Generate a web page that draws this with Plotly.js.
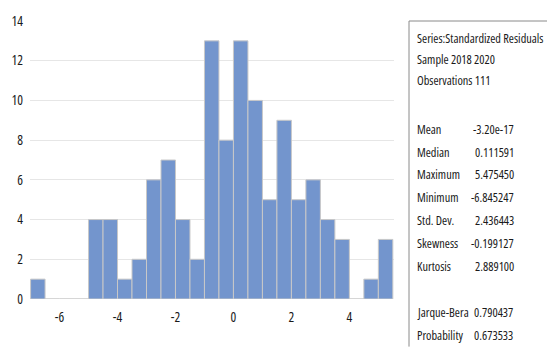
<!DOCTYPE html>
<html>
<head>
<meta charset="utf-8">
<script src="https://cdn.plot.ly/plotly-3.0.1.min.js"></script>
<style>html,body{margin:0;padding:0;background:#fff;}#chart{width:547px;height:347px;} svg text{font-stretch:condensed !important;}</style>
</head>
<body>
<div id="chart"></div>
<script>
// Histogram bins (bin centres, width 0.5) and counts
const binCenters = [-6.75,-6.25,-5.75,-5.25,-4.75,-4.25,-3.75,-3.25,-2.75,-2.25,-1.75,-1.25,-0.75,-0.25,0.25,0.75,1.25,1.75,2.25,2.75,3.25,3.75,4.25,4.75,5.25];
const counts     = [1,0,0,0,4,4,1,2,6,7,4,2,13,8,13,10,5,9,5,6,4,3,0,1,3];
const binWidth = 0.5;
const xTicks = [-6,-4,-2,0,2,4];
const yTicks = [0,2,4,6,8,10,12,14];

// Statistics panel
const headerLines = ["Series:Standardized Residuals","Sample 2018 2020","Observations 111"];
const statNames  = ["Mean","Median","Maximum","Minimum","Std. Dev.","Skewness","Kurtosis"];
const statValues = ["-3.20e-17","0.111591","5.475450","-6.845247","2.436443","-0.199127","2.889100"];
const testNames  = ["Jarque-Bera","Probability"];
const testValues = ["0.790437","0.673533"];

const FONT = "'Open Sans', 'Roboto Condensed', sans-serif";
const L = 30, T = 20.7, W = 364, H = 278.6;
const px = x => (x - L) / W;
const py = y => (T + H - y) / H;

const annotations = [];
function addText(text, x, y, anchor) {
  annotations.push({text: text, xref:'paper', yref:'paper', x: px(x), y: py(y),
    xanchor: anchor, yanchor:'middle', showarrow:false,
    font:{family:FONT, size:12.3, color:'#1a1a1a'}});
}
const headerY = [38, 59, 80];
headerLines.forEach((t,i)=> addText(t, 415, headerY[i], 'left'));
statNames.forEach((t,i)=> { addText(t, 415, 129 + 23*i, 'left'); addText(statValues[i], 516, 129 + 23*i, 'right'); });
testNames.forEach((t,i)=> { addText(t, 415, 313 + 23*i, 'left'); addText(testValues[i], 515, 313 + 23*i, 'right'); });

const shapes = [
  {type:'line', xref:'paper', yref:'paper', x0:0, x1:1, y0:1, y1:1, line:{color:'#ffffff', width:2}},
  {type:'line', xref:'paper', yref:'paper', x0:px(409), x1:px(409), y0:py(20.7), y1:py(347), line:{color:'#8a8a8a', width:1}},
  {type:'line', xref:'paper', yref:'paper', x0:px(409), x1:px(547), y0:py(20.7), y1:py(20.7), line:{color:'#8a8a8a', width:1}}
];

const trace = {
  type:'bar', x: binCenters, y: counts, width: binWidth,
  marker:{color:'#7395cd', line:{color:'#c8c8c8', width:1}},
  hoverinfo:'x+y'
};

const layout = {
  width:547, height:347,
  margin:{l:L, r:547-L-W, t:T, b:347-T-H, pad:0},
  paper_bgcolor:'#ffffff', plot_bgcolor:'#ffffff',
  showlegend:false, bargap:0,
  font:{family:FONT},
  xaxis:{range:[-7.02,5.54], tickvals:xTicks, ticktext:xTicks.map(String), showgrid:false, zeroline:false,
         showline:false, ticks:'', ticklabelstandoff:8, tickfont:{family:FONT, size:13.5, color:'#1a1a1a'}, fixedrange:true},
  yaxis:{range:[0,14], tickvals:yTicks, ticktext:yTicks.map(String), showgrid:true, gridcolor:'#e6e6e6', gridwidth:1,
         zeroline:false, showline:false, ticks:'', ticklabelstandoff:6, tickfont:{family:FONT, size:13.5, color:'#1a1a1a'}, fixedrange:true},
  annotations: annotations,
  shapes: shapes
};

Plotly.newPlot('chart', [trace], layout, {displayModeBar:false, staticPlot:true});
</script>
</body>
</html>
